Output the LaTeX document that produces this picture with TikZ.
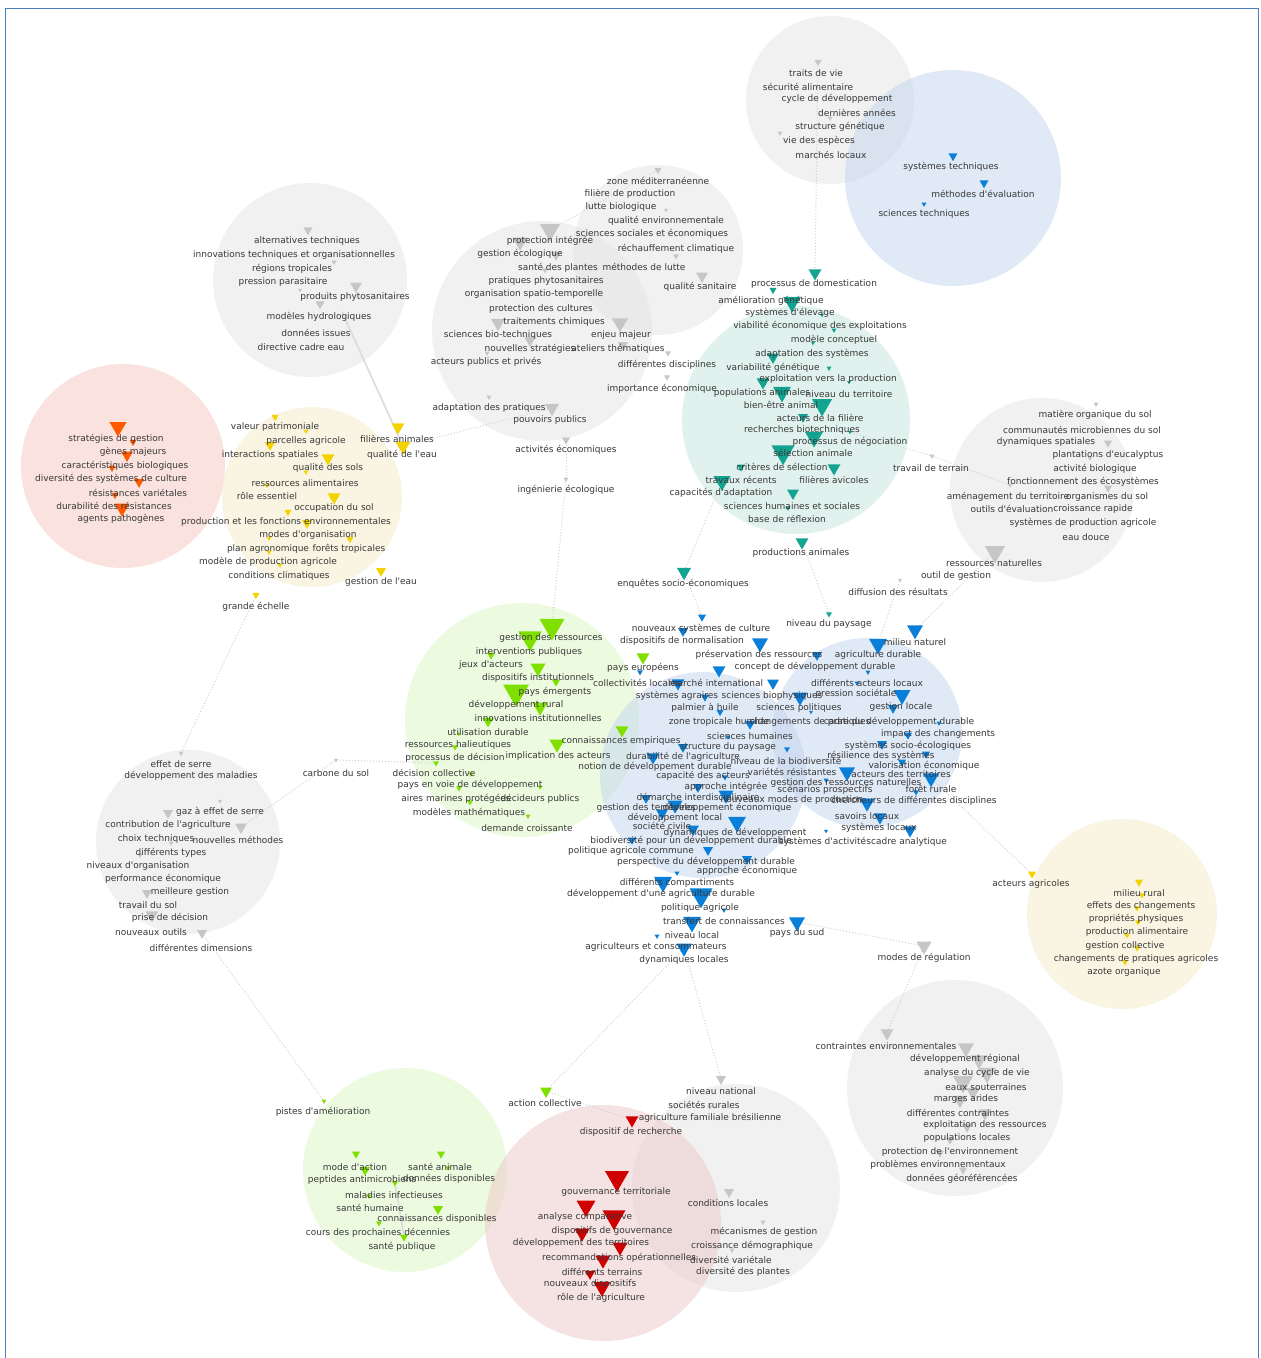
\documentclass[tikz,border=0pt]{standalone}
\usetikzlibrary{shapes.geometric}
\font\lbf="DejaVu Sans" at 9pt
\definecolor{txt}{HTML}{383838}
\definecolor{frm}{HTML}{4A7EBB}
\definecolor{cT}{HTML}{13A391}
\definecolor{cB}{HTML}{0A7FDA}
\definecolor{cG}{HTML}{7FE000}
\definecolor{cO}{HTML}{FF5A00}
\definecolor{cY}{HTML}{F2D300}
\definecolor{cR}{HTML}{D10000}
\definecolor{cK}{HTML}{C6C6C6}
\definecolor{kGr}{HTML}{E4E4E4}
\definecolor{kBl}{HTML}{C3D5EE}
\definecolor{kTe}{HTML}{C4E6DF}
\definecolor{kPi}{HTML}{F6C6BE}
\definecolor{kYe}{HTML}{F4EDC6}
\definecolor{kGn}{HTML}{DAF8C3}
\definecolor{kRd}{HTML}{EDC6C6}
\tikzset{
  lb/.style={font=\lbf, text=txt, inner sep=0pt},
  tri/.style 2 args={regular polygon, regular polygon sides=3, shape border rotate=180,
    fill=#1, draw=none, inner sep=0pt, outer sep=0pt, minimum size=#2*1.155pt},
  clu/.style 2 args={circle, fill=#1, fill opacity=0.5, draw=none, inner sep=0pt, minimum size=#2*2pt},
  edg/.style={draw=black!18, dotted, line width=1pt},
  sol/.style={draw=black!14, line width=1.6pt},
  frame/.style={draw=frm, line width=1.3pt},
}
\newcommand\T[5]{\node[tri={#5}{#4}] (#1) at (#2,#3) {};}
\newcommand\Lb[4]{\node[lb] (#1) at (#2,#3) {#4};}
\pgfdeclarelayer{bg}\pgfdeclarelayer{ed}\pgfsetlayers{bg,ed,main}
\begin{document}
\begin{tikzpicture}[x=1pt,y=-1pt]
\useasboundingbox (0,0) rectangle (1261,1358);
\begin{pgfonlayer}{bg}
\fill[white] (0,0) rectangle (1261,1358);
\node[clu={kGr}{84}] (C1) at (830,100) {};
\node[clu={kBl}{108}] (C2) at (953,178) {};
\node[clu={kGr}{97}] (C3) at (310,280) {};
\node[clu={kGr}{85}] (C4) at (658,250) {};
\node[clu={kGr}{110}] (C5) at (542,331) {};
\node[clu={kTe}{114}] (C6) at (796,420) {};
\node[clu={kPi}{102}] (C7) at (123,466) {};
\node[clu={kYe}{90}] (C8) at (312,497) {};
\node[clu={kGr}{92}] (C9) at (1042,490) {};
\node[clu={kGn}{117}] (C10) at (522,720) {};
\node[clu={kBl}{103}] (C11) at (703,775) {};
\node[clu={kBl}{95}] (C12) at (867,733) {};
\node[clu={kGr}{92}] (C13) at (188,842) {};
\node[clu={kYe}{95}] (C14) at (1122,914) {};
\node[clu={kGr}{108}] (C15) at (955,1088) {};
\node[clu={kGn}{102}] (C16) at (405,1170) {};
\node[clu={kGr}{104}] (C17) at (736,1188) {};
\node[clu={kRd}{118}] (C18) at (603,1223) {};
\end{pgfonlayer}
\draw[frame] (5.5,1358) -- (5.5,8.5) -- (1258.5,8.5) -- (1258.5,1358);
% ---------- triangles: gray ----------
\T{ka1}{818}{62}{7}{cK}\T{ka2}{830}{118}{5}{cK}\T{ka3}{780}{133}{5}{cK}
\T{kb1}{658}{170}{7}{cK}\T{kb2}{666}{210}{4}{cK}\T{kb3}{676}{256}{6}{cK}\T{kb4}{702}{276}{12}{cK}
\T{kb5}{668}{353}{6}{cK}\T{kb6}{667}{377}{6}{cK}
\T{kc1}{550}{230}{20}{cK}\T{kc2}{520}{242}{15}{cK}\T{kc3}{556}{255}{10}{cK}\T{kc4}{545}{270}{6}{cK}
\T{kc5}{498}{323}{14}{cK}\T{kc6}{530}{340}{12}{cK}\T{kc7}{620}{323}{16}{cK}\T{kc8}{623}{345}{10}{cK}
\T{kc9}{489}{397}{5}{cK}\T{kc10}{552}{408}{14}{cK}\T{kc11}{566}{440}{8}{cK}\T{kc12}{566}{479}{5}{cK}\T{kc13}{487}{353}{5}{cK}
\T{kd1}{308}{230}{9}{cK}\T{kd2}{356}{286}{12}{cK}\T{kd3}{320}{304}{9}{cK}\T{kd4}{334}{262}{5}{cK}\T{kd5}{300}{290}{4}{cK}
\T{ke1}{995}{552}{20}{cK}\T{ke2}{1096}{404}{5}{cK}\T{ke3}{1108}{443}{8}{cK}\T{ke4}{1108}{488}{8}{cK}
\T{ke5}{1010}{485}{5}{cK}\T{ke6}{1090}{458}{5}{cK}\T{ke7}{932}{456}{5}{cK}\T{ke8}{900}{580}{4}{cK}
\T{kf1}{181}{753}{5}{cK}\T{kf2}{168}{813}{10}{cK}\T{kf3}{241}{827}{12}{cK}\T{kf4}{220}{801}{4}{cK}
\T{kf5}{147}{893}{10}{cK}\T{kf6}{152}{915}{13}{cK}\T{kf7}{202}{933}{10}{cK}\T{kf8}{171}{843}{5}{cK}
\T{kf9}{336}{760}{4}{cK}\T{kf10}{140}{855}{5}{cK}
\T{kg1}{924}{946}{15}{cK}\T{kg2}{887}{1033}{13}{cK}\T{kg3}{966}{1048}{16}{cK}\T{kg4}{979}{1060}{16}{cK}
\T{kg5}{987}{1073}{18}{cK}\T{kg6}{963}{1082}{20}{cK}\T{kg7}{973}{1092}{14}{cK}\T{kg8}{960}{1100}{14}{cK}
\T{kg9}{985}{1113}{13}{cK}\T{kg10}{967}{1127}{10}{cK}\T{kg11}{950}{1140}{8}{cK}\T{kg12}{940}{1153}{8}{cK}\T{kg13}{963}{1170}{8}{cK}
\T{kh1}{721}{1079}{10}{cK}\T{kh2}{710}{1107}{5}{cK}\T{kh3}{729}{1192}{10}{cK}\T{kh4}{763}{1222}{5}{cK}\T{kh5}{732}{1250}{5}{cK}
% ---------- blue top ----------
\T{ba1}{953}{156}{9}{cB}\T{ba2}{984}{183}{9}{cB}\T{ba3}{924}{204}{5}{cB}
% ---------- teal ----------
\T{ta1}{815}{273}{13}{cT}\T{ta2}{773}{290}{7}{cT}\T{ta3}{792}{302}{18}{cT}\T{ta4}{822}{315}{4}{cT}
\T{ta5}{834}{330}{5}{cT}\T{ta6}{813}{343}{4}{cT}\T{ta7}{773}{357}{12}{cT}\T{ta8}{829}{368}{5}{cT}
\T{ta9}{763}{382}{13}{cT}\T{ta10}{782}{392}{18}{cT}\T{ta11}{849}{382}{4}{cT}\T{ta12}{822}{405}{20}{cT}
\T{ta13}{803}{417}{10}{cT}\T{ta14}{850}{432}{4}{cT}\T{ta15}{814}{437}{18}{cT}\T{ta16}{783}{452}{23}{cT}
\T{ta17}{741}{467}{8}{cT}\T{ta18}{834}{468}{13}{cT}\T{ta19}{722}{481}{17}{cT}\T{ta20}{793}{493}{12}{cT}
\T{ta21}{788}{508}{5}{cT}\T{ta22}{802}{542}{13}{cT}\T{ta23}{684}{572}{14}{cT}\T{ta24}{829}{614}{6}{cT}
% ---------- orange ----------
\T{oa1}{118}{427}{17}{cO}\T{oa2}{133}{442}{7}{cO}\T{oa3}{127}{455}{12}{cO}\T{oa4}{112}{468}{7}{cO}
\T{oa5}{139}{482}{10}{cO}\T{oa6}{115}{495}{7}{cO}\T{oa7}{122}{508}{15}{cO}
% ---------- yellow ----------
\T{ya1}{275}{417}{7}{cY}\T{ya2}{306}{431}{5}{cY}\T{ya3}{270}{445}{10}{cY}\T{ya4}{328}{458}{13}{cY}
\T{ya5}{306}{472}{5}{cY}\T{ya6}{267}{485}{5}{cY}\T{ya7}{334}{497}{13}{cY}\T{ya8}{288}{512}{7}{cY}
\T{ya9}{307}{523}{10}{cY}\T{ya10}{269}{538}{5}{cY}\T{ya11}{350}{539}{7}{cY}\T{ya12}{269}{552}{5}{cY}
\T{ya13}{280}{565}{5}{cY}\T{ya14}{398}{427}{13}{cY}\T{ya15}{403}{446}{15}{cY}\T{ya16}{381}{571}{10}{cY}
\T{ya17}{256}{595}{7}{cY}
\T{yb1}{1032}{874}{8}{cY}\T{yb2}{1139}{882}{8}{cY}\T{yb3}{1142}{895}{6}{cY}\T{yb4}{1137}{908}{6}{cY}
\T{yb5}{1138}{922}{6}{cY}\T{yb6}{1127}{935}{6}{cY}\T{yb7}{1137}{948}{6}{cY}\T{yb8}{1125}{962}{6}{cY}
% ---------- green ----------
\T{ga1}{552}{626}{25}{cG}\T{ga2}{530}{638}{23}{cG}\T{ga3}{491}{655}{8}{cG}\T{ga4}{538}{668}{15}{cG}
\T{ga5}{556}{682}{8}{cG}\T{ga6}{516}{692}{26}{cG}\T{ga7}{540}{707}{15}{cG}\T{ga8}{488}{721}{11}{cG}
\T{ga9}{459}{734}{4}{cG}\T{ga10}{455}{747}{6}{cG}\T{ga11}{436}{763}{6}{cG}\T{ga12}{471}{774}{5}{cG}
\T{ga13}{557}{744}{15}{cG}\T{ga14}{622}{730}{13}{cG}\T{ga15}{459}{788}{6}{cG}\T{ga16}{470}{802}{6}{cG}
\T{ga17}{540}{787}{5}{cG}\T{ga18}{528}{816}{5}{cG}\T{ga19}{643}{657}{13}{cG}
\T{gb1}{324}{1101}{5}{cG}\T{gb2}{546}{1091}{12}{cG}\T{gb3}{356}{1154}{8}{cG}\T{gb4}{441}{1154}{8}{cG}
\T{gb5}{365}{1170}{10}{cG}\T{gb6}{395}{1183}{6}{cG}\T{gb7}{369}{1196}{5}{cG}\T{gb8}{438}{1209}{10}{cG}
\T{gb9}{379}{1223}{6}{cG}\T{gb10}{404}{1237}{8}{cG}\T{gb11}{448}{1168}{5}{cG}
% ---------- red ----------
\T{ra1}{632}{1120}{13}{cR}\T{ra2}{617}{1178}{24}{cR}\T{ra3}{586}{1206}{19}{cR}\T{ra4}{614}{1217}{23}{cR}
\T{ra5}{582}{1233}{15}{cR}\T{ra6}{620}{1247}{15}{cR}\T{ra7}{603}{1260}{15}{cR}\T{ra8}{590}{1274}{10}{cR}\T{ra9}{602}{1287}{17}{cR}
% ---------- blue ----------
\T{bb1}{702}{617}{8}{cB}\T{bb2}{683}{631}{10}{cB}\T{bb3}{760}{643}{16}{cB}\T{bb4}{915}{630}{16}{cB}
\T{bb5}{878}{644}{18}{cB}\T{bb6}{817}{655}{10}{cB}\T{bb7}{719}{670}{13}{cB}\T{bb8}{868}{672}{5}{cB}
\T{bb9}{640}{672}{6}{cB}\T{bb10}{678}{683}{13}{cB}\T{bb11}{773}{683}{12}{cB}\T{bb12}{857}{683}{5}{cB}
\T{bb13}{705}{697}{8}{cB}\T{bb14}{800}{697}{15}{cB}\T{bb15}{902}{695}{17}{cB}\T{bb16}{720}{712}{7}{cB}
\T{bb17}{811}{712}{4}{cB}\T{bb18}{893}{708}{10}{cB}\T{bb19}{750}{724}{10}{cB}\T{bb20}{939}{723}{5}{cB}
\T{bb21}{728}{737}{5}{cB}\T{bb22}{683}{747}{10}{cB}\T{bb23}{787}{749}{6}{cB}\T{bb24}{882}{744}{10}{cB}
\T{bb25}{908}{735}{8}{cB}\T{bb26}{653}{757}{13}{cB}\T{bb27}{926}{754}{8}{cB}\T{bb28}{902}{762}{8}{cB}
\T{bb29}{847}{772}{16}{cB}\T{bb30}{725}{777}{6}{cB}\T{bb31}{931}{778}{16}{cB}\T{bb32}{698}{787}{10}{cB}
\T{bb33}{826}{780}{5}{cB}\T{bb34}{916}{792}{6}{cB}\T{bb35}{726}{795}{15}{cB}\T{bb36}{646}{798}{10}{cB}
\T{bb37}{675}{805}{15}{cB}\T{bb38}{662}{813}{12}{cB}\T{bb39}{737}{822}{18}{cB}\T{bb40}{693}{829}{12}{cB}
\T{bb41}{632}{840}{8}{cB}\T{bb42}{708}{850}{10}{cB}\T{bb43}{747}{859}{10}{cB}\T{bb44}{677}{873}{5}{cB}
\T{bb45}{663}{882}{18}{cB}\T{bb46}{701}{895}{23}{cB}\T{bb47}{724}{910}{5}{cB}\T{bb48}{692}{922}{18}{cB}
\T{bb49}{657}{936}{5}{cB}\T{bb50}{684}{948}{15}{cB}\T{bb51}{797}{922}{16}{cB}\T{bb52}{826}{831}{4}{cB}
\T{bb53}{867}{803}{15}{cB}\T{bb54}{880}{817}{13}{cB}\T{bb55}{910}{830}{13}{cB}
% ---------- labels ----------
\Lb{a1}{816}{73}{traits de vie}
\Lb{a2}{808}{87}{sécurité alimentaire}
\Lb{a3}{837}{99}{cycle de développement}
\Lb{a4}{857}{113}{dernières années}
\Lb{a5}{840}{127}{structure génétique}
\Lb{a6}{819}{141}{vie des espèces}
\Lb{a7}{831}{155}{marchés locaux}
\Lb{b1}{951}{167}{systèmes techniques}
\Lb{b2}{983}{194}{méthodes d'évaluation}
\Lb{b3}{924}{214}{sciences techniques}
\Lb{c1}{658}{181}{zone méditerranéenne}
\Lb{c2}{630}{194}{filière de production}
\Lb{c3}{621}{207}{lutte biologique}
\Lb{c4}{666}{221}{qualité environnementale}
\Lb{c5}{652}{234}{sciences sociales et économiques}
\Lb{c6}{676}{249}{réchauffement climatique}
\Lb{c7}{644}{267}{méthodes de lutte}
\Lb{c8}{700}{287}{qualité sanitaire}
\Lb{d1}{550}{241}{protection intégrée}
\Lb{d2}{520}{254}{gestion écologique}
\Lb{d3}{558}{268}{santé des plantes}
\Lb{d4}{546}{281}{pratiques phytosanitaires}
\Lb{d5}{534}{294}{organisation spatio-temporelle}
\Lb{d6}{541}{309}{protection des cultures}
\Lb{d7}{554}{322}{traitements chimiques}
\Lb{d8}{498}{335}{sciences bio-techniques}
\Lb{d9}{621}{335}{enjeu majeur}
\Lb{d10}{530}{349}{nouvelles stratégies}
\Lb{d11}{618}{349}{ateliers thématiques}
\Lb{d12}{486}{362}{acteurs publics et privés}
\Lb{d13}{667}{365}{différentes disciplines}
\Lb{d14}{662}{389}{importance économique}
\Lb{d15}{489}{408}{adaptation des pratiques}
\Lb{d16}{550}{420}{pouvoirs publics}
\Lb{d17}{566}{450}{activités économiques}
\Lb{d18}{566}{490}{ingénierie écologique}
\Lb{e1}{307}{241}{alternatives techniques}
\Lb{e2}{294}{255}{innovations techniques et organisationnelles}
\Lb{e3}{292}{269}{régions tropicales}
\Lb{e4}{283}{282}{pression parasitaire}
\Lb{e5}{355}{297}{produits phytosanitaires}
\Lb{e6}{319}{317}{modèles hydrologiques}
\Lb{e7}{316}{333}{données issues}
\Lb{e8}{301}{347}{directive cadre eau}
\Lb{f1}{814}{284}{processus de domestication}
\Lb{f2}{771}{301}{amélioration génétique}
\Lb{f3}{790}{313}{systèmes d'élevage}
\Lb{f4}{820}{326}{viabilité économique des exploitations}
\Lb{f5}{834}{340}{modèle conceptuel}
\Lb{f6}{812}{354}{adaptation des systèmes}
\Lb{f7}{773}{368}{variabilité génétique}
\Lb{f8}{828}{379}{exploitation vers la production}
\Lb{f9}{762}{393}{populations animales}
\Lb{f10}{849}{394}{niveau du territoire}
\Lb{f11}{781}{405}{bien-être animal}
\Lb{f12}{820}{418}{acteurs de la filière}
\Lb{f13}{802}{430}{recherches biotechniques}
\Lb{f14}{850}{442}{processus de négociation}
\Lb{f15}{813}{453}{sélection animale}
\Lb{f16}{782}{467}{critères de sélection}
\Lb{f17}{834}{480}{filières avicoles}
\Lb{f18}{741}{480}{travaux récents}
\Lb{f19}{721}{493}{capacités d'adaptation}
\Lb{f20}{792}{506}{sciences humaines et sociales}
\Lb{f21}{787}{519}{base de réflexion}
\Lb{f22}{801}{553}{productions animales}
\Lb{f23}{931}{468}{travail de terrain}
\Lb{f24}{683}{584}{enquêtes socio-économiques}
\Lb{g1}{116}{439}{stratégies de gestion}
\Lb{g2}{133}{452}{gènes majeurs}
\Lb{g3}{125}{466}{caractéristiques biologiques}
\Lb{g4}{111}{479}{diversité des systèmes de culture}
\Lb{g5}{138}{493}{résistances variétales}
\Lb{g6}{114}{506}{durabilité des résistances}
\Lb{g7}{121}{519}{agents pathogènes}
\Lb{h1}{275}{427}{valeur patrimoniale}
\Lb{h2}{306}{441}{parcelles agricole}
\Lb{h3}{270}{455}{interactions spatiales}
\Lb{h4}{328}{468}{qualité des sols}
\Lb{h5}{305}{483}{ressources alimentaires}
\Lb{h6}{267}{496}{rôle essentiel}
\Lb{h7}{334}{508}{occupation du sol}
\Lb{h8}{286}{522}{production et les fonctions environnementales}
\Lb{h9}{308}{535}{modes d'organisation}
\Lb{h10}{268}{549}{plan agronomique}
\Lb{h11}{349}{549}{forêts tropicales}
\Lb{h12}{268}{562}{modèle de production agricole}
\Lb{h13}{279}{576}{conditions climatiques}
\Lb{h14}{381}{582}{gestion de l'eau}
\Lb{h15}{256}{607}{grande échelle}
\Lb{h16}{397}{439}{filières animales}
\Lb{h17}{402}{455}{qualité de l'eau}
\Lb{i1}{1095}{415}{matière organique du sol}
\Lb{i2}{1082}{430}{communautés microbiennes du sol}
\Lb{i3}{1046}{442}{dynamiques spatiales}
\Lb{i4}{1108}{455}{plantations d'eucalyptus}
\Lb{i5}{1095}{469}{activité biologique}
\Lb{i6}{1083}{482}{fonctionnement des écosystèmes}
\Lb{i7}{1008}{497}{aménagement du territoire}
\Lb{i8}{1107}{497}{organismes du sol}
\Lb{i9}{1012}{509}{outils d'évaluation}
\Lb{i10}{1093}{509}{croissance rapide}
\Lb{i11}{1083}{523}{systèmes de production agricole}
\Lb{i12}{1086}{537}{eau douce}
\Lb{i13}{994}{563}{ressources naturelles}
\Lb{i14}{956}{576}{outil de gestion}
\Lb{i15}{898}{592}{diffusion des résultats}
\Lb{j1}{551}{638}{gestion des ressources}
\Lb{j2}{529}{652}{interventions publiques}
\Lb{j3}{491}{665}{jeux d'acteurs}
\Lb{j4}{538}{678}{dispositifs institutionnels}
\Lb{j5}{555}{692}{pays émergents}
\Lb{j6}{516}{705}{développement rural}
\Lb{j7}{538}{718}{innovations institutionnelles}
\Lb{j8}{488}{732}{utilisation durable}
\Lb{j9}{458}{745}{ressources halieutiques}
\Lb{j10}{455}{758}{processus de décision}
\Lb{j11}{558}{756}{implication des acteurs}
\Lb{j12}{621}{741}{connaissances empiriques}
\Lb{j13}{655}{767}{notion de développement durable}
\Lb{j14}{434}{773}{décision collective}
\Lb{j15}{470}{785}{pays en voie de développement}
\Lb{j16}{456}{799}{aires marines protégées}
\Lb{j17}{540}{799}{décideurs publics}
\Lb{j18}{469}{813}{modèles mathématiques}
\Lb{j19}{527}{828}{demande croissante}
\Lb{j20}{643}{668}{pays européens}
\Lb{k1}{701}{629}{nouveaux systèmes de culture}
\Lb{k2}{682}{641}{dispositifs de normalisation}
\Lb{k3}{829}{624}{niveau du paysage}
\Lb{k4}{915}{642}{milieu naturel}
\Lb{k5}{759}{655}{préservation des ressources}
\Lb{k6}{878}{655}{agriculture durable}
\Lb{k7}{815}{667}{concept de développement durable}
\Lb{k8}{637}{683}{collectivités locales}
\Lb{k9}{716}{683}{marché international}
\Lb{k10}{867}{683}{différents acteurs locaux}
\Lb{k11}{677}{696}{systèmes agraires}
\Lb{k12}{772}{696}{sciences biophysiques}
\Lb{k13}{856}{694}{pression sociétale}
\Lb{k14}{705}{708}{palmier à huile}
\Lb{k15}{799}{708}{sciences politiques}
\Lb{k16}{901}{707}{gestion locale}
\Lb{k17}{719}{722}{zone tropicale humide}
\Lb{k18}{810}{722}{changements de pratiques}
\Lb{k19}{899}{722}{cadre du développement durable}
\Lb{k20}{750}{736}{sciences humaines}
\Lb{k21}{938}{734}{impact des changements}
\Lb{k22}{728}{747}{structure du paysage}
\Lb{k23}{908}{746}{systèmes socio-écologiques}
\Lb{k24}{683}{757}{durabilité de l'agriculture}
\Lb{k25}{786}{761}{niveau de la biodiversité}
\Lb{k26}{881}{756}{résilience des systèmes}
\Lb{k27}{924}{766}{valorisation économique}
\Lb{k28}{703}{776}{capacité des acteurs}
\Lb{k29}{792}{772}{variétés résistantes}
\Lb{k30}{901}{774}{acteurs des territoires}
\Lb{k31}{726}{787}{approche intégrée}
\Lb{k32}{846}{783}{gestion des ressources naturelles}
\Lb{k33}{825}{790}{scénarios prospectifs}
\Lb{k34}{931}{789}{forêt rurale}
\Lb{k35}{698}{798}{démarche interdisciplinaire}
\Lb{k36}{792}{800}{nouveaux modes de production}
\Lb{k37}{914}{801}{chercheurs de différentes disciplines}
\Lb{k38}{646}{808}{gestion des territoires}
\Lb{k39}{727}{808}{développement économique}
\Lb{k40}{675}{818}{développement local}
\Lb{k41}{867}{816}{savoirs locaux}
\Lb{k42}{662}{826}{société civile}
\Lb{k43}{735}{833}{dynamiques de développement}
\Lb{k44}{879}{828}{systèmes locaux}
\Lb{k45}{691}{841}{biodiversité pour un développement durable}
\Lb{k46}{825}{842}{systèmes d'activités}
\Lb{k47}{909}{842}{cadre analytique}
\Lb{k48}{631}{851}{politique agricole commune}
\Lb{k49}{706}{862}{perspective du développement durable}
\Lb{k50}{747}{871}{approche économique}
\Lb{k51}{677}{883}{différents compartiments}
\Lb{k52}{661}{894}{développement d'une agriculture durable}
\Lb{k53}{700}{908}{politique agricole}
\Lb{k54}{724}{921}{transfert de connaissances}
\Lb{k55}{692}{935}{niveau local}
\Lb{k56}{797}{933}{pays du sud}
\Lb{k57}{656}{947}{agriculteurs et consommateurs}
\Lb{k58}{684}{960}{dynamiques locales}
\Lb{m1}{181}{764}{effet de serre}
\Lb{m2}{191}{776}{développement des maladies}
\Lb{m3}{336}{773}{carbone du sol}
\Lb{m4}{220}{812}{gaz à effet de serre}
\Lb{m5}{168}{825}{contribution de l'agriculture}
\Lb{m6}{156}{839}{choix techniques}
\Lb{m7}{238}{840}{nouvelles méthodes}
\Lb{m8}{171}{853}{différents types}
\Lb{m9}{138}{866}{niveaux d'organisation}
\Lb{m10}{163}{879}{performance économique}
\Lb{m11}{190}{892}{meilleure gestion}
\Lb{m12}{148}{905}{travail du sol}
\Lb{m13}{170}{918}{prise de décision}
\Lb{m14}{151}{932}{nouveaux outils}
\Lb{m15}{201}{948}{différentes dimensions}
\Lb{n1}{1031}{884}{acteurs agricoles}
\Lb{n2}{1139}{893}{milieu rural}
\Lb{n3}{1141}{906}{effets des changements}
\Lb{n4}{1136}{919}{propriétés physiques}
\Lb{n5}{1137}{932}{production alimentaire}
\Lb{n6}{1125}{946}{gestion collective}
\Lb{n7}{1136}{959}{changements de pratiques agricoles}
\Lb{n8}{1124}{972}{azote organique}
\Lb{o1}{924}{958}{modes de régulation}
\Lb{o2}{886}{1046}{contraintes environnementales}
\Lb{o3}{965}{1059}{développement régional}
\Lb{o4}{977}{1073}{analyse du cycle de vie}
\Lb{o5}{986}{1087}{eaux souterraines}
\Lb{o6}{966}{1099}{marges arides}
\Lb{o7}{958}{1113}{différentes contraintes}
\Lb{o8}{985}{1125}{exploitation des ressources}
\Lb{o9}{967}{1138}{populations locales}
\Lb{o10}{950}{1152}{protection de l'environnement}
\Lb{o11}{938}{1165}{problèmes environnementaux}
\Lb{o12}{962}{1179}{données géoréférencées}
\Lb{p1}{323}{1112}{pistes d'amélioration}
\Lb{p2}{545}{1103}{action collective}
\Lb{p3}{721}{1091}{niveau national}
\Lb{p4}{704}{1105}{sociétés rurales}
\Lb{p5}{710}{1118}{agriculture familiale brésilienne}
\Lb{p6}{631}{1132}{dispositif de recherche}
\Lb{p7}{355}{1167}{mode d'action}
\Lb{p8}{440}{1167}{santé animale}
\Lb{p9}{362}{1180}{peptides antimicrobiens}
\Lb{p10}{449}{1179}{données disponibles}
\Lb{p11}{394}{1195}{maladies infectieuses}
\Lb{p12}{370}{1208}{santé humaine}
\Lb{p13}{437}{1219}{connaissances disponibles}
\Lb{p14}{378}{1233}{cours des prochaines décennies}
\Lb{p15}{402}{1247}{santé publique}
\Lb{p16}{616}{1192}{gouvernance territoriale}
\Lb{p17}{585}{1217}{analyse comparative}
\Lb{p18}{612}{1231}{dispositifs de gouvernance}
\Lb{p19}{581}{1243}{développement des territoires}
\Lb{p20}{619}{1258}{recommandations opérationnelles}
\Lb{p21}{602}{1272}{différents terrains}
\Lb{p22}{590}{1284}{nouveaux dispositifs}
\Lb{p23}{601}{1298}{rôle de l'agriculture}
\Lb{p24}{728}{1203}{conditions locales}
\Lb{p25}{764}{1232}{mécanismes de gestion}
\Lb{p26}{752}{1246}{croissance démographique}
\Lb{p27}{731}{1260}{diversité variétale}
\Lb{p28}{743}{1272}{diversité des plantes}
% ---------- connectors ----------
\coordinate (lk) at (342,312);
\begin{pgfonlayer}{ed}
\draw[sol] (ya15) -- (lk);
\draw[sol] (gb6) -- (gb10);
\draw[edg] (ka1) -- (ta1);
\draw[edg] (ta22) -- (ta24);
\draw[edg] (bb4) -- (ke1);
\draw[edg] (ke8) -- (bb5);
\draw[edg] (kc12) -- (ga1);
\draw[edg] (ta23) -- (bb1);
\draw[edg] (ta23) -- (ta19);
\draw[edg] (ya17) -- (kf1);
\draw[edg] (kf7) -- (gb1);
\draw[edg] (ga11) -- (kf9);
\draw[edg] (kf9) -- (kf3);
\draw[edg] (bb51) -- (kg1);
\draw[edg] (kg1) -- (kg2);
\draw[edg] (bb50) -- (gb2);
\draw[edg] (gb2) -- (ra1);
\draw[edg] (kh1) -- (bb50);
\draw[edg] (yb1) -- (bb31);
\draw[edg] (ke7) -- (ta14);
\draw[edg] (ke5) -- (ke7);
\draw[edg] (kc10) -- (ya15);
\draw[edg] (kb1) -- (kc1);
\draw[edg] (kc11) -- (kc12);
\end{pgfonlayer}
\end{tikzpicture}
\end{document}
